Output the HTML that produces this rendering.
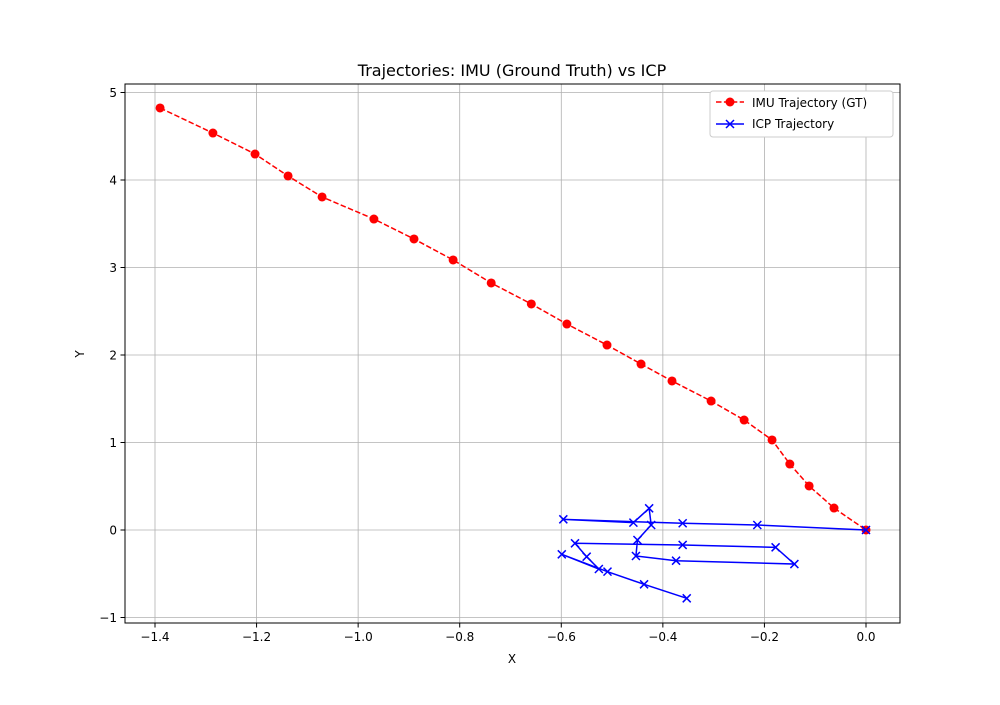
<!DOCTYPE html>
<html><head><meta charset="utf-8"><style>
body{margin:0;background:#fff;font-family:"Liberation Sans","DejaVu Sans",sans-serif}
svg text{font-family:"DejaVu Sans","Liberation Sans",sans-serif}
</style></head><body>
<svg id="chart" width="1000" height="700" xmlns="http://www.w3.org/2000/svg">
<rect width="1000" height="700" fill="#fff"/>
<g id="grid"></g>
<g id="series"></g>
<rect x="125" y="84" width="775" height="539" fill="none" stroke="#000" stroke-width="1"/>
<g id="ticks"></g>
<text x="512" y="76" text-anchor="middle" font-size="16">Trajectories: IMU (Ground Truth) vs ICP</text>
<text x="512" y="663" text-anchor="middle" font-size="12">X</text>
<text x="84" y="354" text-anchor="middle" font-size="12" transform="rotate(-90 84 354)">Y</text>
<g>
<rect x="710" y="91" width="183" height="46" rx="3" fill="#fff" stroke="#ccc"/>
<g>
<line x1="716" y1="102" x2="744" y2="102" stroke="red" stroke-width="1.5" stroke-dasharray="5.5,2.4"/>
<circle cx="730" cy="102" r="4.5" fill="red"/>
<text x="752" y="107" font-size="12">IMU Trajectory (GT)</text></g>
<g>
<line x1="716" y1="124" x2="744" y2="124" stroke="blue" stroke-width="1.5"/>
<path d="M726,120l8,8M734,120l-8,8" stroke="blue" stroke-width="1.5"/>
<text x="752" y="128" font-size="12">ICP Trajectory</text></g>
</g>
</svg>
<script>
const imuX=[-1.390,-1.286,-1.203,-1.138,-1.071,-0.969,-0.890,-0.813,-0.738,-0.659,-0.589,-0.510,-0.443,-0.382,-0.305,-0.240,-0.185,-0.150,-0.112,-0.063,0];
const imuY=[4.823,4.537,4.297,4.046,3.806,3.554,3.326,3.086,2.823,2.583,2.354,2.114,1.897,1.703,1.474,1.257,1.029,0.754,0.503,0.251,0];
const icpX=[0,-0.214,-0.361,-0.596,-0.458,-0.427,-0.423,-0.450,-0.453,-0.374,-0.141,-0.178,-0.361,-0.573,-0.550,-0.526,-0.599,-0.509,-0.437,-0.353];
const icpY=[0,0.057,0.077,0.122,0.084,0.248,0.057,-0.114,-0.297,-0.351,-0.389,-0.198,-0.171,-0.152,-0.305,-0.446,-0.278,-0.476,-0.621,-0.781];
const xTicks=[-1.4,-1.2,-1.0,-0.8,-0.6,-0.4,-0.2,0.0];
const yTicks=[-1,0,1,2,3,4,5];
const NS="http://www.w3.org/2000/svg";
function sx(v){return 866+v*507.86;}
function sy(v){return 530-v*87.5;}
function mk(t,a,p){const e=document.createElementNS(NS,t);for(const k in a)e.setAttribute(k,a[k]);p.appendChild(e);return e;}
const grid=document.getElementById('grid'),ticks=document.getElementById('ticks'),ser=document.getElementById('series');
xTicks.forEach(v=>{const x=sx(v);
const g=mk('line',{x1:x,x2:x,y1:84,y2:623,stroke:'#b0b0b0','stroke-width':0.8},grid);


mk('line',{x1:x,x2:x,y1:623,y2:627.5,stroke:'#000'},ticks);
const t=mk('text',{x:x,y:641,'text-anchor':'middle','font-size':12},ticks);
t.textContent=(v===0?'0.0':v.toFixed(1)).replace('-','\u2212');

});
yTicks.forEach(v=>{const y=sy(v);
const g=mk('line',{x1:125,x2:900,y1:y,y2:y,stroke:'#b0b0b0','stroke-width':0.8},grid);


mk('line',{x1:120.5,x2:125,y1:y,y2:y,stroke:'#000'},ticks);
const t=mk('text',{x:117,y:y+4.5,'text-anchor':'end','font-size':12},ticks);
t.textContent=String(v).replace('-','\u2212');

});
const ip=mk('polyline',{points:imuX.map((v,i)=>sx(v)+','+sy(imuY[i])).join(' '),fill:'none',stroke:'red','stroke-width':1.5,'stroke-dasharray':'5.5,2.4'},ser);


imuX.forEach((v,i)=>{const c=mk('circle',{cx:sx(v),cy:sy(imuY[i]),r:4.5,fill:'red'},ser);

});
const cp=mk('polyline',{points:icpX.map((v,i)=>sx(v)+','+sy(icpY[i])).join(' '),fill:'none',stroke:'blue','stroke-width':1.5},ser);


icpX.forEach((v,i)=>{const x=sx(v),y=sy(icpY[i]);
const m=mk('path',{d:`M${x-4},${y-4}l8,8M${x+4},${y-4}l-8,8`,stroke:'blue','stroke-width':1.5},ser);

});
</script>
</body></html>
